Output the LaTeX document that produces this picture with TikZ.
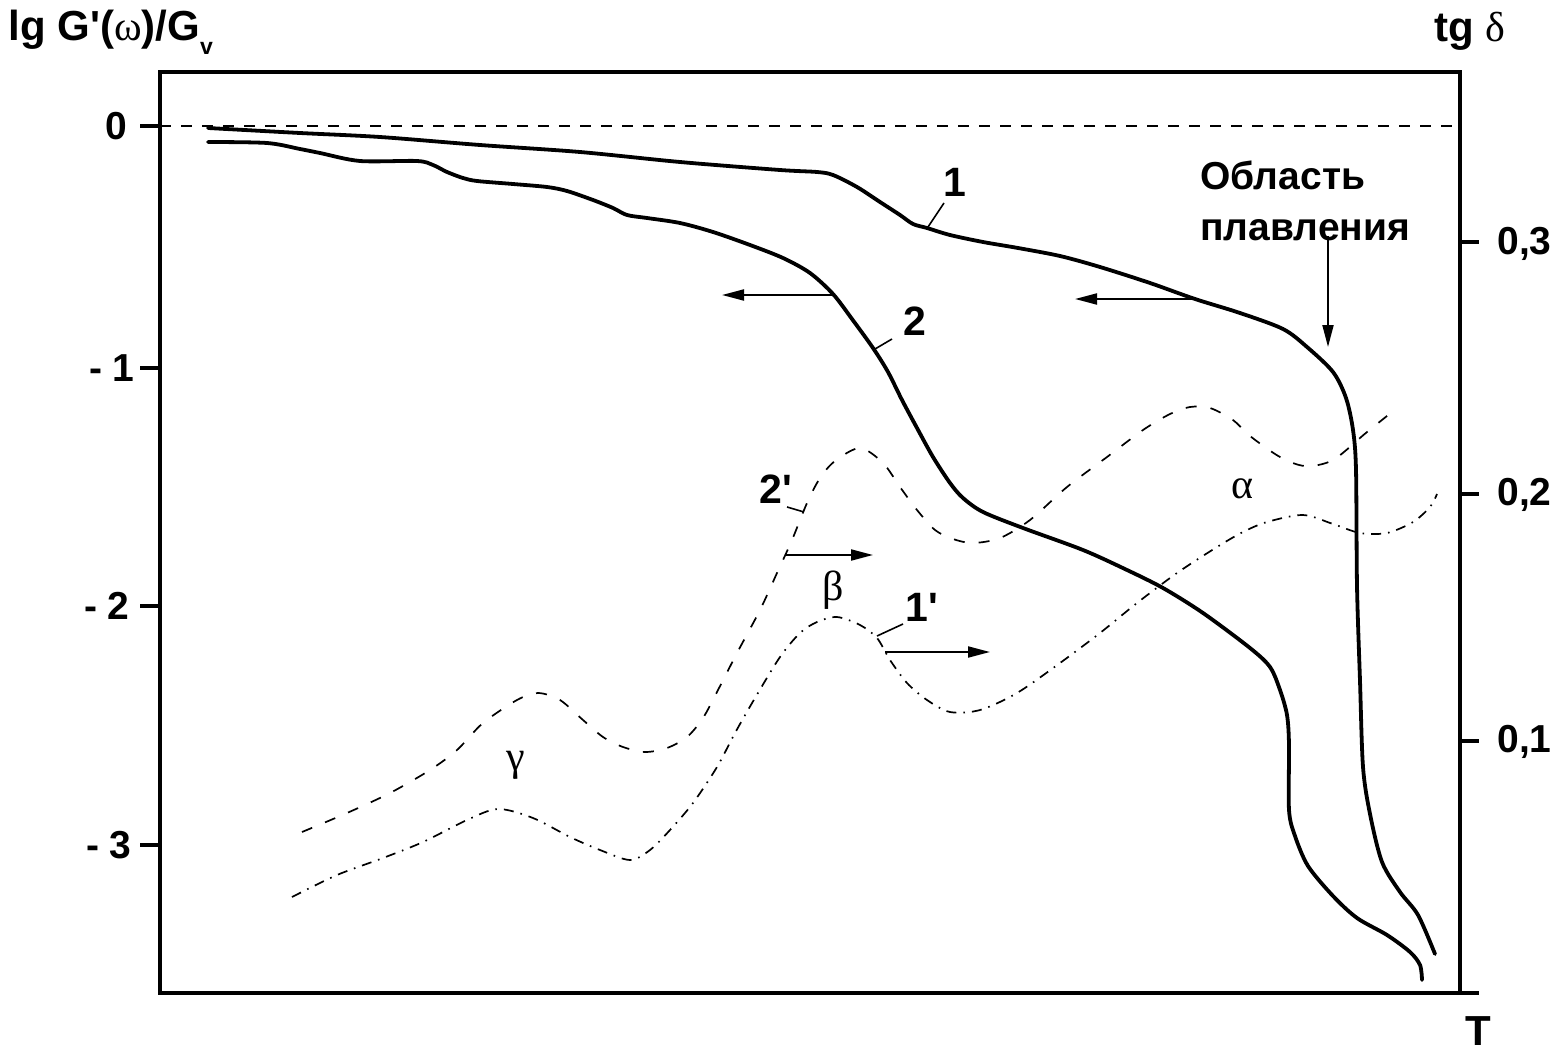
\documentclass[tikz,border=0pt]{standalone}
\usepackage{fontspec}
\setmainfont{Liberation Sans}[Ligatures=TeXOff]
\newfontfamily\grk{Liberation Serif}
\usetikzlibrary{arrows.meta}
\begin{document}
\begin{tikzpicture}[x=0.5pt,y=-0.5pt,
  frame/.style={line width=2pt},
  tickline/.style={line width=2pt},
  curve/.style={line width=1.9pt, line join=round, line cap=round},
  dashcurve/.style={line width=0.85pt, dash pattern=on 5.5pt off 7pt},
  dotcurve/.style={line width=0.85pt, dash pattern=on 5pt off 3.5pt on 0.8pt off 3.5pt},
  zeroline/.style={line width=0.8pt, dash pattern=on 5.5pt off 5pt},
  arr/.style={line width=1pt, -{Triangle[length=11pt,width=5.5pt]}},
  lead/.style={line width=0.8pt},
  ticklbl/.style={inner sep=0, font=\bfseries\fontsize{19.5}{22}\selectfont},
  meltlbl/.style={inner sep=0, font=\bfseries\fontsize{19.5}{22}\selectfont},
  curvelbl/.style={inner sep=0, font=\bfseries\fontsize{20.5}{23}\selectfont},
  greeklbl/.style={inner sep=0, font=\grk\fontsize{21}{23}\selectfont},
  axislbl/.style={inner sep=0, font=\bfseries\fontsize{21}{24}\selectfont},
]
\useasboundingbox (0,0) rectangle (1563,1054);

% frame
\draw[frame] (160,72) rectangle (1460,993);
\draw[zeroline] (160,126) -- (1460,126);

% left ticks
\draw[tickline] (140,126) -- (160,126);
\draw[tickline] (140,368) -- (160,368);
\draw[tickline] (140,606) -- (160,606);
\draw[tickline] (140,845) -- (160,845);
\node[ticklbl, anchor=east] (l0) at (128,126) {0};
\node[ticklbl, anchor=east] (l1) at (135,368) {- 1};
\node[ticklbl, anchor=east] (l2) at (130,606) {- 2};
\node[ticklbl, anchor=east] (l3) at (132,845) {- 3};

% right ticks
\draw[tickline] (1460,242) -- (1479,242);
\draw[tickline] (1460,494) -- (1479,494);
\draw[tickline] (1460,741) -- (1479,741);
\draw[tickline] (1460,993) -- (1479,993);
\node[ticklbl, anchor=west] (r3) at (1497,244) {0,3};
\node[ticklbl, anchor=west] (r2) at (1497,495) {0,2};
\node[ticklbl, anchor=west] (r1) at (1497,742) {0,1};

% axis titles
\node[axislbl, anchor=base west] (ylab) at (8,41) {lg G'({\grk\mdseries ω})/G\raisebox{-7pt}{\fontsize{11.5}{12}\selectfont v}};
\node[axislbl, anchor=base west] (tglab) at (1434,42) {tg {\grk\mdseries δ}};
\node[axislbl, anchor=base] (tlab) at (1478,1045) {T};

% curve 1
\draw[curve] plot[smooth, tension=0.5] coordinates {
(208,128) (300,133) (380,137) (480,145) (580,152) (680,162) (780,170) (817,172)
(833,175) (857,187) (880,202) (900,215) (913,224) (927,228) (950,235) (983,242)
(1018,248) (1060,256) (1100,267) (1150,283) (1195,299) (1240,313) (1283,329)
(1307,347) (1333,372) (1346,398) (1353,430) (1356,470) (1357,586) (1360,681)
(1363,767) (1370,814) (1382,862) (1400,892) (1418,915) (1435,954)};

% curve 2
\draw[curve] plot[smooth, tension=0.5] coordinates {
(208,142) (267,143) (300,149) (320,153) (360,161) (417,161) (433,165) (447,172)
(463,178) (477,181) (513,184) (547,187) (567,191) (593,200) (613,208) (627,215)
(647,218) (680,223) (713,232) (750,245) (783,258) (810,273) (833,294) (852,319)
(873,348) (888,372) (902,400) (917,428) (933,457) (950,483) (963,498) (983,512)
(1023,528) (1083,550) (1127,570) (1163,588) (1203,613) (1250,648) (1270,667)
(1280,690) (1287,715) (1289,745) (1289,810) (1295,836) (1308,866) (1333,896)
(1357,918) (1387,935) (1410,952) (1420,965) (1422,980)};

% curve 2'
\draw[dashcurve] plot[smooth, tension=0.5] coordinates {
(302,832) (347,813) (390,793) (430,770) (457,750) (483,723) (517,700) (538,693)
(560,700) (583,720) (603,737) (623,747) (645,752) (667,748) (687,737) (703,718)
(718,690) (737,653) (760,610) (777,573) (792,540) (807,503) (820,478) (835,461)
(860,448) (883,463) (900,487) (917,510) (935,530) (953,539) (973,543) (1000,538)
(1030,520) (1067,487) (1107,457) (1143,430) (1170,414) (1190,407) (1210,408)
(1233,420) (1250,436) (1280,457) (1305,466) (1333,460) (1367,432) (1397,408)};

% curve 1'
\draw[dotcurve] plot[smooth, tension=0.5] coordinates {
(292,897) (337,875) (383,858) (423,842) (467,820) (498,809) (533,818) (570,837)
(600,850) (630,860) (650,850) (670,830) (693,803) (717,767) (735,733) (755,698)
(780,657) (800,633) (817,622) (837,617) (860,625) (877,638) (890,660) (907,683)
(927,700) (950,712) (980,710) (1017,693) (1060,663) (1100,633) (1137,603)
(1177,573) (1217,547) (1243,532) (1267,522) (1303,515) (1333,524) (1360,533)
(1387,533) (1413,522) (1430,507) (1437,494)};

% curve labels and leaders
\node[curvelbl] (n1) at (955,182) {1};
\coordinate (n1a) at (928,227); \coordinate (n1b) at (944,203);
\draw[lead] (n1a) -- (n1b);
\node[curvelbl] (n2) at (915,321) {2};
\coordinate (n2a) at (875,349); \coordinate (n2b) at (892,339);
\draw[lead] (n2a) -- (n2b);
\node[curvelbl] (n2p) at (776,489) {2'};
\coordinate (n2pa) at (787,507); \coordinate (n2pb) at (804,512);
\draw[lead] (n2pa) -- (n2pb);
\node[curvelbl] (n1p) at (922,607) {1'};
\coordinate (n1pa) at (877,636); \coordinate (n1pb) at (903,624);
\draw[lead] (n1pa) -- (n1pb);

% arrows
\coordinate (a2s) at (833,295); \coordinate (a2t) at (722,295);
\draw[arr] (a2s) -- (a2t);
\coordinate (a1s) at (1195,299); \coordinate (a1t) at (1075,299);
\draw[arr] (a1s) -- (a1t);
\coordinate (a2ps) at (785,555); \coordinate (a2pt) at (873,555);
\draw[arr] (a2ps) -- (a2pt);
\coordinate (a1ps) at (885,652); \coordinate (a1pt) at (990,652);
\draw[arr] (a1ps) -- (a1pt);

% melting region
\node[meltlbl, anchor=base west] (melt1) at (1200,190) {Область};
\node[meltlbl, anchor=base west] (melt2) at (1200,240) {плавления};
\coordinate (ms) at (1328,236); \coordinate (mt) at (1328,347);
\draw[arr] (ms) -- (mt);

% greek labels
\node[greeklbl] (ga) at (1242,489) {α};
\node[greeklbl] (gb) at (833,590) {β};
\node[greeklbl] (gg) at (516,765) {γ};
\end{tikzpicture}
\end{document}
